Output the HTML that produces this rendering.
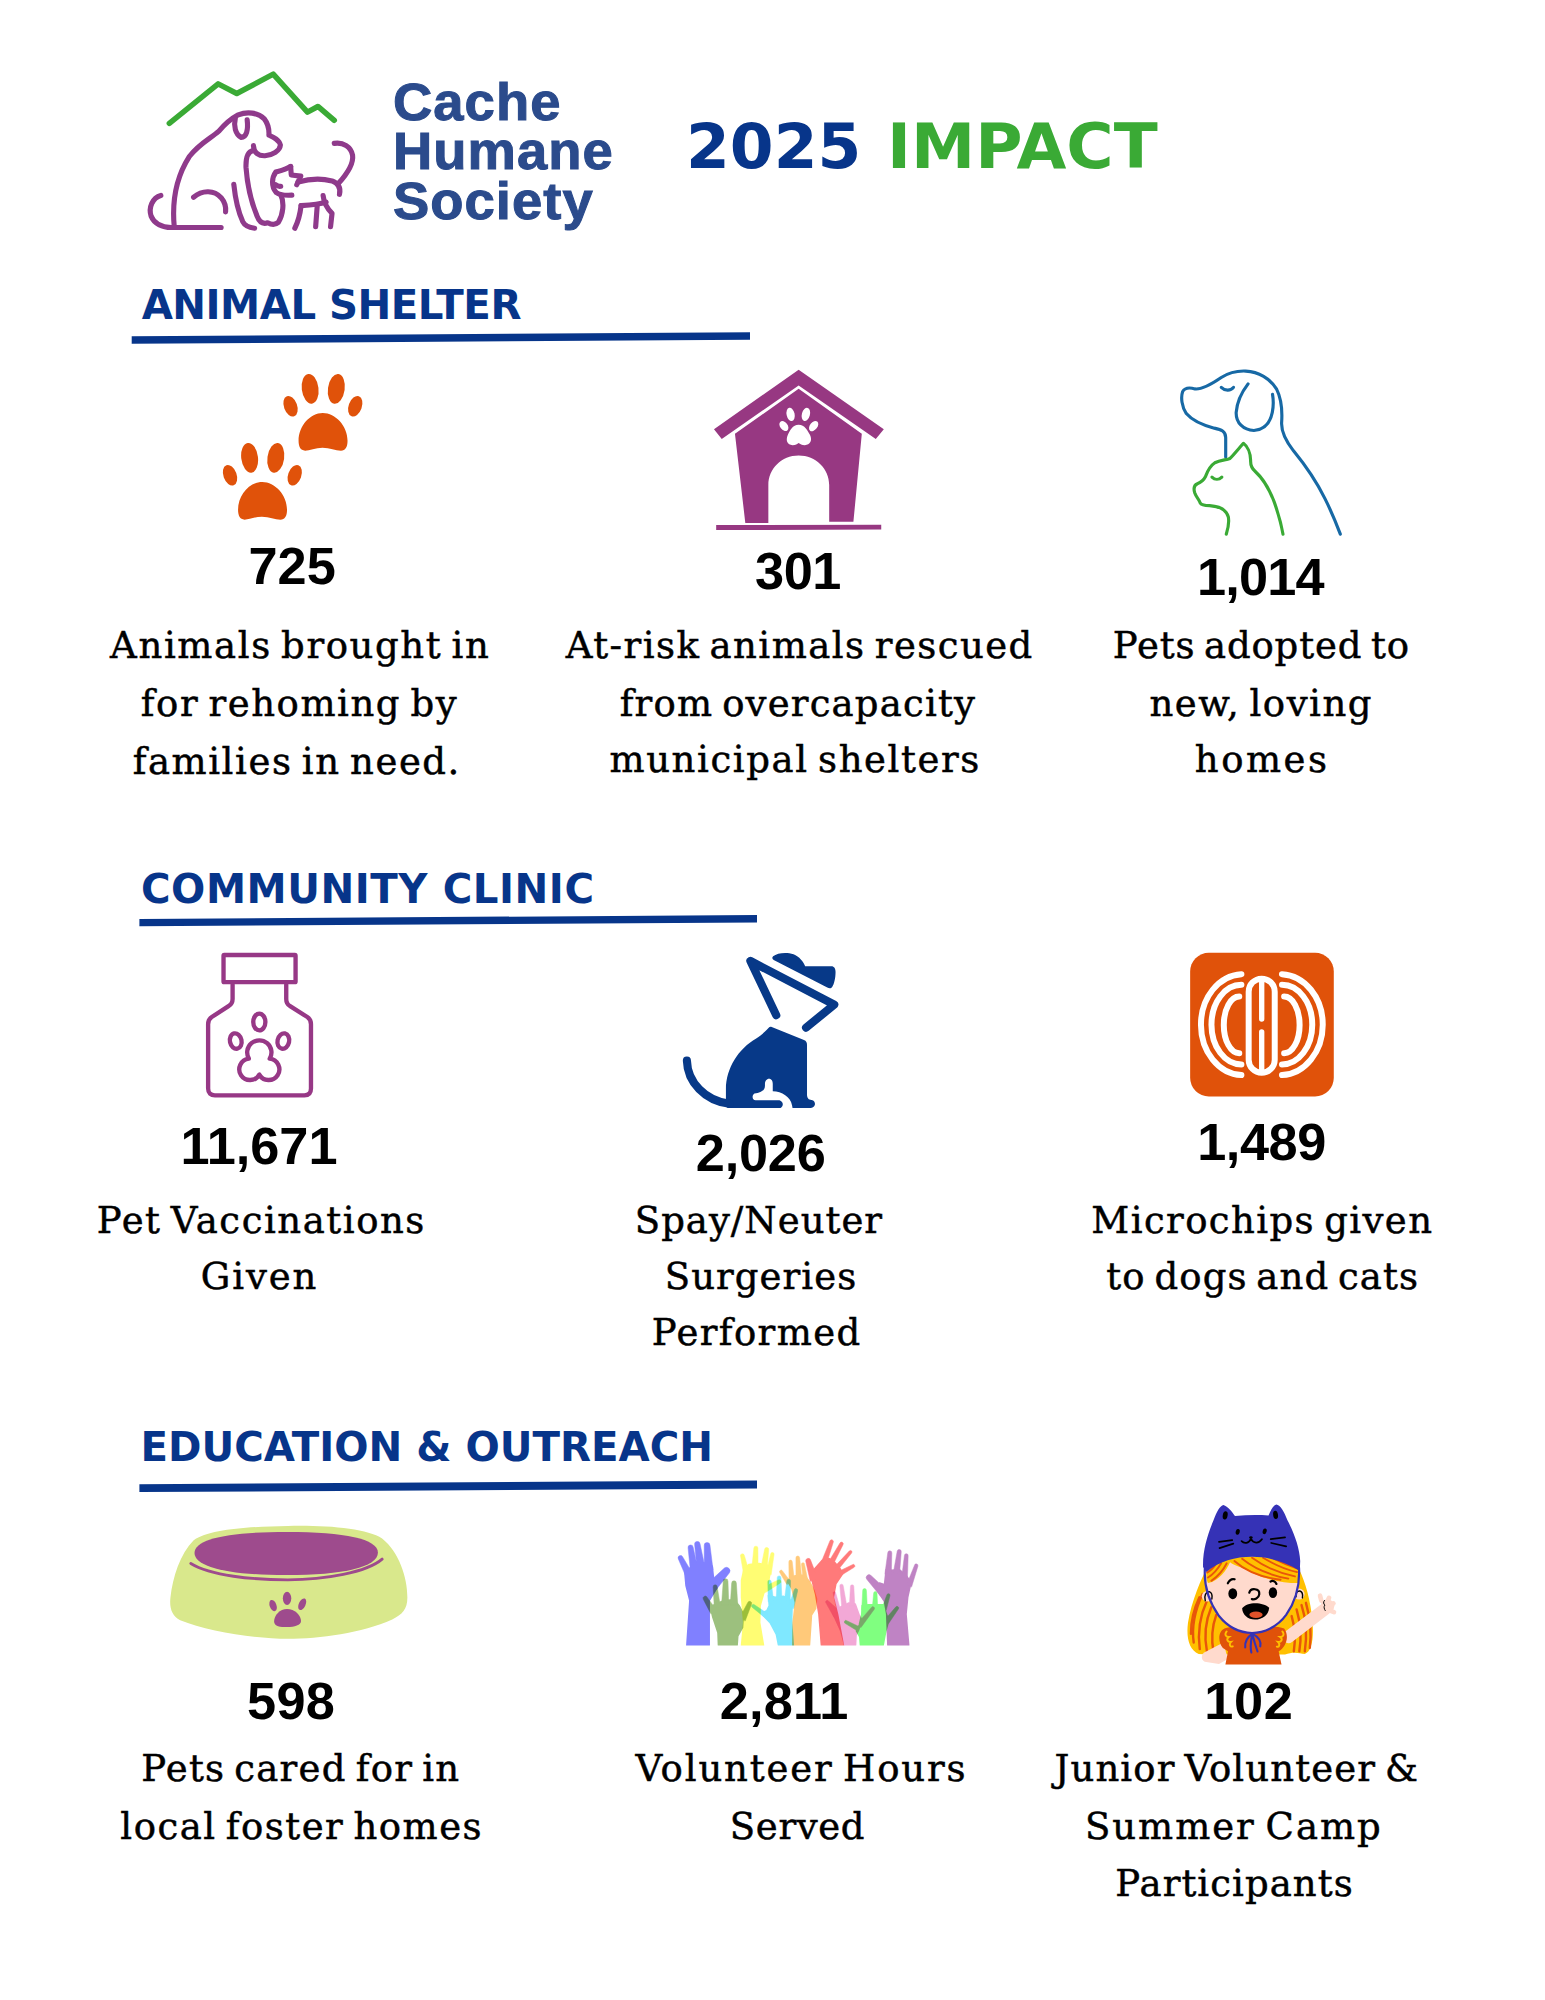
<!DOCTYPE html>
<html lang="en"><head><meta charset="utf-8"><title>Cache Humane Society 2025 Impact</title>
<style>
html,body{margin:0;padding:0;background:#fff}
#pg{position:relative;width:1545px;height:2000px;overflow:hidden;background:#fff}
.t{position:absolute;white-space:nowrap;line-height:1;margin:0;padding:0}
.sb{font-family:"Liberation Sans", sans-serif;font-weight:700}
.se{font-family:"DejaVu Serif", "Liberation Serif", serif;font-weight:400}
.dj{font-family:"DejaVu Sans", "Liberation Sans", sans-serif;font-weight:700}
.ic{position:absolute;overflow:visible}
.se{-webkit-text-stroke:0.5px #000;word-spacing:-4px}
</style></head><body><div id="pg">
<svg class="ic" style="left:0;top:0" width="1545" height="2000" viewBox="0 0 1545 2000">
<polygon fill="#07358a" points="131.7,336.2 750.0,332.2 750.0,339.8 131.7,343.8"/>
<polygon fill="#07358a" points="139.4,918.9 757.0,915.1 757.0,922.5 139.4,926.3"/>
<polygon fill="#07358a" points="139.4,1484.3 757.0,1480.6 757.0,1488.4 139.4,1492.1"/>
</svg>
<svg class="ic" style="left:140px;top:60px" width="230" height="180" viewBox="0 0 1545 1209">
<g fill="none" stroke-linecap="round" stroke-linejoin="round" stroke-width="34.5">
<path stroke="#3aaa35" stroke-width="37" d="M197 425 L525 160 L650 225 L895 95 L1125 350 L1195 312 L1305 405"/>
<g stroke="#8f3a8b">
<path d="M230 1120 C215 960 235 800 330 650 C400 560 470 530 530 478 C570 430 610 395 660 368 C720 345 790 352 835 395 C862 430 868 470 866 505 C900 520 935 535 943 572 C940 610 890 640 840 643 C800 645 765 628 762 575"/>
<path d="M640 395 C628 440 640 500 680 520 C715 520 728 470 720 402"/>
<path d="M760 608 C725 615 710 650 712 720 C720 830 750 960 785 1045 C800 1085 825 1105 858 1093 C880 1105 905 1112 930 1090 C960 1040 972 960 945 905"/>
<path d="M630 835 C640 930 660 1020 690 1085 C705 1115 735 1125 770 1130"/>
<path d="M360 922 C420 870 500 875 545 925 C570 955 578 990 575 1020"/>
<path d="M140 910 C85 925 55 990 75 1050 C95 1100 150 1125 210 1125 L545 1125"/>
<path d="M1012 715 C975 740 940 745 912 752 C885 790 880 850 915 890 C945 912 985 910 1020 908"/>
<path d="M912 838 C925 848 935 850 945 848"/>
<path d="M1012 715 L1016 772 L1080 780 L1053 838"/>
<path d="M1062 820 C1130 800 1220 795 1290 812 C1335 830 1350 860 1340 902"/>
<path d="M1332 830 C1395 760 1435 690 1428 640 C1418 585 1365 550 1305 560"/>
<path d="M1082 978 C1075 1040 1060 1090 1040 1130"/>
<path d="M1082 978 C1140 975 1200 972 1250 955"/>
<path d="M1190 985 L1180 1120"/>
<path d="M1230 910 C1235 960 1260 1000 1290 1030 L1280 1120"/>
</g></g></svg>
<svg class="ic" style="left:210px;top:360px" width="170" height="170" viewBox="0 0 1545 1545">
<g fill="#e0520a">
<g>
<ellipse cx="910" cy="262" rx="76" ry="136" transform="rotate(-7 910 262)"/>
<ellipse cx="1148" cy="262" rx="76" ry="136" transform="rotate(8 1148 262)"/>
<ellipse cx="732" cy="420" rx="60" ry="97" transform="rotate(-20 732 420)"/>
<ellipse cx="1320" cy="420" rx="60" ry="97" transform="rotate(20 1320 420)"/>
<path d="M1025 482 C1140 482 1250 600 1250 735 C1250 795 1230 824 1190 824 C1140 824 1090 797 1022 797 C960 797 905 824 865 824 C820 824 805 785 805 735 C805 600 910 482 1025 482 Z"/>
</g>
<g transform="translate(-550 627)">
<ellipse cx="910" cy="262" rx="76" ry="136" transform="rotate(-7 910 262)"/>
<ellipse cx="1148" cy="262" rx="76" ry="136" transform="rotate(8 1148 262)"/>
<ellipse cx="732" cy="420" rx="60" ry="97" transform="rotate(-20 732 420)"/>
<ellipse cx="1320" cy="420" rx="60" ry="97" transform="rotate(20 1320 420)"/>
<path d="M1025 482 C1140 482 1250 600 1250 735 C1250 795 1230 824 1190 824 C1140 824 1090 797 1022 797 C960 797 905 824 865 824 C820 824 805 785 805 735 C805 600 910 482 1025 482 Z"/>
</g>
</g>
</svg>
<svg class="ic" style="left:700px;top:360px" width="200" height="180" viewBox="0 0 1545 1390">
<g fill="#973882">
<polygon points="762,75 108,535 168,610 762,197 1358,610 1420,535"/>
<path d="M762 222 L270 570 L350 1258 L528 1258 L528 965 C528 840 630 738 762 738 C895 738 998 840 998 965 L998 1250 L1185 1250 L1250 570 Z"/>
<polygon points="125,1275 1400,1273 1400,1310 125,1313"/>
</g>
<g fill="#fff">
<ellipse cx="700" cy="420" rx="31" ry="52" transform="rotate(-12 700 420)"/>
<ellipse cx="818" cy="420" rx="31" ry="52" transform="rotate(15 818 420)"/>
<ellipse cx="648" cy="510" rx="29" ry="43" transform="rotate(-38 648 510)"/>
<ellipse cx="878" cy="510" rx="29" ry="45" transform="rotate(38 878 510)"/>
<path d="M762 500 C810 500 830 545 850 580 C870 625 850 655 810 658 C785 658 775 645 762 640 C750 645 740 658 715 658 C675 655 660 625 678 580 C695 545 715 500 762 500 Z"/>
</g>
</svg>
<svg class="ic" style="left:1170px;top:360px" width="180" height="185" viewBox="0 0 1545 1588">
<g fill="none" stroke-linecap="round" stroke-linejoin="round" stroke-width="27">
<g stroke="#1769a5">
<path d="M478 832 L478 665 C478 610 440 598 380 585 C300 565 200 530 140 460 C100 400 92 320 108 272 C125 240 170 235 215 248 C280 255 360 205 440 150 C510 105 580 92 650 95 C760 100 860 160 915 250 C960 340 965 440 958 540 C955 620 990 690 1060 780 C1150 890 1250 1030 1330 1190 C1390 1310 1430 1410 1462 1495"/>
<path d="M670 205 C620 270 575 360 568 450 C565 540 630 600 720 605 C810 600 860 540 878 450 C890 390 888 340 880 295"/>
<path d="M440 235 C470 265 520 268 545 235"/>
</g>
<g stroke="#3aaa35">
<path d="M483 1495 C500 1440 510 1390 500 1345 C480 1280 420 1255 340 1250 C300 1250 270 1248 258 1225 C250 1195 225 1180 212 1140 C200 1100 205 1075 235 1062 C270 1048 290 1030 305 1000 C320 960 335 915 385 882 C430 860 480 858 515 845 C550 810 590 760 630 715 C665 740 690 800 692 860 C690 900 695 925 730 955 C790 1010 850 1100 895 1220 C930 1320 955 1410 970 1495"/>
<path d="M360 1005 C385 1030 420 1030 445 1005"/>
</g></g></svg>
<svg class="ic" style="left:190px;top:940px" width="140" height="170" viewBox="0 0 1545 1876">
<g fill="none" stroke="#973886" stroke-width="48" stroke-linejoin="round" stroke-linecap="round">
<rect x="370" y="165" width="795" height="300" rx="8"/>
<path d="M470 490 L470 650 C470 690 455 712 425 730 L240 850 C210 870 200 890 200 930 L200 1640 C200 1690 230 1715 275 1715 L1262 1715 C1310 1715 1335 1690 1335 1640 L1335 930 C1335 890 1325 870 1295 850 L1105 730 C1075 712 1062 690 1062 650 L1062 490"/>
<ellipse cx="765" cy="905" rx="67" ry="92"/>
<ellipse cx="505" cy="1115" rx="64" ry="86" transform="rotate(-12 505 1115)"/>
<ellipse cx="1030" cy="1115" rx="64" ry="86" transform="rotate(12 1030 1115)"/>
<path d="M650 1310 A134 134 0 1 1 880 1310 A118 118 0 1 1 765 1485 A118 118 0 1 1 650 1310 Z"/>
</g>
</svg>
<svg class="ic" style="left:670px;top:940px" width="180" height="180" viewBox="0 0 1545 1545">
<g fill="#073988" stroke="none">
<path d="M885 140 C920 110 1000 102 1060 122 C1110 142 1145 185 1160 225 L1385 225 C1410 225 1421 245 1421 275 C1421 330 1408 380 1392 404 C1382 418 1365 416 1350 408 L890 172 C875 162 875 150 885 140 Z"/>
<path d="M868 745 L1150 858 C1170 866 1176 880 1176 900 L1176 1325 C1176 1360 1190 1372 1215 1374 C1240 1378 1246 1400 1244 1412 C1240 1432 1225 1441 1205 1441 L500 1441 C485 1441 480 1430 480 1410 L480 1280 C480 1100 590 930 740 845 C790 815 820 780 845 755 C852 747 860 743 868 745 Z"/>
</g>
<path fill="#fff" d="M815 1235 C815 1210 830 1190 850 1190 C872 1190 882 1210 882 1235 L882 1298 C960 1300 1035 1345 1048 1420 L1052 1445 L945 1445 C978 1430 975 1385 940 1375 L735 1375 C705 1372 700 1335 725 1318 C780 1312 815 1290 815 1250 Z"/>
<g fill="none" stroke="#073988" stroke-width="70" stroke-linecap="round" stroke-linejoin="round">
<path d="M912 645 L690 180 L1410 555 L1168 752"/>
<path d="M145 1035 C150 1220 300 1380 510 1406"/>
</g>
</svg>
<svg class="ic" style="left:1180px;top:940px" width="165" height="165" viewBox="0 0 1545 1545">
<rect x="95" y="120" width="1345" height="1345" rx="175" fill="#e0520a"/>
<g fill="none" stroke="#fff" stroke-width="56" stroke-linecap="round">
<rect x="643" y="362" width="244" height="881" rx="122"/>
<path d="M765 400 L765 740 M765 860 L765 1205" stroke-width="50"/>
<path d="M575 320 A397 473 0 0 0 575 1265"/>
<path d="M575 420 A280 372 0 0 0 575 1165"/>
<path d="M555 530 A145 265 0 0 0 555 1060"/>
<path d="M955 320 A400 473 0 0 1 955 1265"/>
<path d="M955 420 A283 372 0 0 1 955 1165"/>
<path d="M975 530 A145 265 0 0 1 975 1060"/>
</g></svg>
<svg class="ic" style="left:160px;top:1510px" width="260" height="140" viewBox="0 0 1545 832">
<path fill="#d9e88c" d="M760 95 C1000 90 1230 110 1320 170 C1420 250 1470 400 1470 520 C1470 590 1440 622 1380 650 C1200 730 950 765 760 765 C560 765 280 720 120 655 C70 630 55 580 62 520 C75 400 120 260 200 180 C290 115 520 98 760 95 Z"/>
<g fill="#9e4b8d">
<path d="M205 255 C205 172 400 130 755 130 C1100 130 1295 172 1295 252 C1295 338 1090 387 750 387 C410 387 205 338 205 255 Z"/>
<ellipse cx="755" cy="525" rx="25" ry="39"/>
<ellipse cx="672" cy="568" rx="20" ry="35" transform="rotate(-20 672 568)"/>
<ellipse cx="845" cy="560" rx="20" ry="37" transform="rotate(25 845 560)"/>
<path d="M755 588 C800 588 838 625 838 660 C838 685 800 696 755 696 C715 696 678 690 678 662 C678 625 712 588 755 588 Z"/>
</g>
<path fill="none" stroke="#9e4b8d" stroke-width="17" stroke-linecap="round" d="M183 318 C300 390 550 415 760 415 C980 415 1230 370 1320 292"/>
</svg>
<svg class="ic" style="left:665px;top:1530px;isolation:isolate" width="260" height="125" viewBox="0 0 1545 743">
<defs><filter id="hb" x="-5%" y="-5%" width="110%" height="110%"><feGaussianBlur stdDeviation="2.2"/></filter><clipPath id="hc"><rect x="0" y="0" width="1545" height="686"/></clipPath></defs>
<g clip-path="url(#hc)"><g filter="url(#hb)">
<g style="mix-blend-mode:multiply" fill="#8080ff" stroke="#8080ff" stroke-linecap="round" stroke-linejoin="round"><polygon stroke-width="10" points="130,686 148,420 125,330 118,250 150,225 200,200 250,195 280,215 288,290 310,340 262,420 262,686"/><path stroke-width="3" d="M165 261L105 160A14 14 0 0 0 79 172L126 281ZM197 238L167 102A15 15 0 0 0 137 106L151 245ZM238 223L208 82A16 16 0 0 0 176 86L190 231ZM285 235L267 91A17 17 0 0 0 233 93L233 239ZM300 360L383 254A21 21 0 0 0 353 226L254 317Z"/></g>
<g style="mix-blend-mode:multiply" fill="#9cc07e" stroke="#9cc07e" stroke-linecap="round" stroke-linejoin="round"><polygon stroke-width="10" points="318,686 315,610 285,520 270,460 300,440 350,420 410,415 440,450 465,500 460,580 432,630 428,686"/><path stroke-width="3" d="M305 475L250 399A13 13 0 0 0 228 413L271 496ZM330 460L310 337A12 12 0 0 0 286 339L293 464ZM379 442L374 304A14 14 0 0 0 346 304L336 442ZM432 442L424 316A14 14 0 0 0 396 316L388 442ZM477 539L514 441A12 12 0 0 0 492 431L443 523Z"/></g>
<g style="mix-blend-mode:multiply" fill="#fffd73" stroke="#fffd73" stroke-linecap="round" stroke-linejoin="round"><polygon stroke-width="10" points="455,686 468,550 455,400 455,300 470,230 500,205 560,200 610,210 625,250 612,320 585,380 565,450 562,550 585,686"/><path stroke-width="3" d="M500 248L471 150A11 11 0 0 0 449 156L466 256ZM553 228L552 109A12 12 0 0 0 528 107L516 226ZM607 230L616 118A12 12 0 0 0 592 114L570 224ZM631 265L648 146A10 10 0 0 0 628 142L600 259ZM598 371L683 317A11 11 0 0 0 673 297L581 341Z"/></g>
<g style="mix-blend-mode:multiply" fill="#7fe8ff" stroke="#7fe8ff" stroke-linecap="round" stroke-linejoin="round"><polygon stroke-width="10" points="675,686 662,620 625,550 570,495 605,480 620,450 615,390 655,400 705,395 740,410 755,450 752,550 762,686"/><path stroke-width="3" d="M608 496L531 444A9 9 0 0 0 519 460L591 519ZM645 421L631 307A10 10 0 0 0 611 309L613 423ZM695 412L689 284A11 11 0 0 0 667 284L661 412ZM744 418L746 305A11 11 0 0 0 724 303L710 416ZM764 466L788 362A10 10 0 0 0 768 356L733 457Z"/></g>
<g style="mix-blend-mode:multiply" fill="#ffc97a" stroke="#ffc97a" stroke-linecap="round" stroke-linejoin="round"><polygon stroke-width="10" points="760,686 762,550 775,430 755,350 730,305 745,280 790,270 830,270 860,310 885,360 900,410 895,465 870,505 858,686"/><path stroke-width="3" d="M747 307L698 243A9 9 0 0 0 682 253L723 323ZM769 301L756 188A10 10 0 0 0 736 190L737 303ZM813 291L800 165A11 11 0 0 0 778 167L778 293ZM851 310L829 203A9 9 0 0 0 811 205L823 314Z"/></g>
<g style="mix-blend-mode:multiply" fill="#ff7a7a" stroke="#ff7a7a" stroke-linecap="round" stroke-linejoin="round"><polygon stroke-width="10" points="930,686 915,500 895,380 872,290 890,230 935,180 975,170 1010,195 1040,230 1055,260 1015,320 1000,400 1025,500 1060,686"/><path stroke-width="3" d="M908 290L864 176A15 15 0 0 0 836 184L863 303ZM961 197L1000 73A10 10 0 0 0 980 65L931 186ZM998 208L1058 87A10 10 0 0 0 1040 77L970 193ZM1028 238L1109 137A9 9 0 0 0 1095 125L1006 220ZM1041 273L1124 222A9 9 0 0 0 1114 206L1028 248Z"/></g>
<g style="mix-blend-mode:multiply" fill="#f2a8d6" stroke="#f2a8d6" stroke-linecap="round" stroke-linejoin="round"><polygon stroke-width="10" points="1068,686 1045,600 1000,500 975,430 1020,470 1060,450 1090,435 1130,440 1155,510 1170,535 1150,595 1135,625 1132,686"/><path stroke-width="3" d="M1029 502L972 423A9 9 0 0 0 956 433L1004 518ZM1044 479L1013 369A8 8 0 0 0 999 373L1022 484ZM1082 460L1059 331A10 10 0 0 0 1039 333L1051 464ZM1128 452L1122 336A10 10 0 0 0 1102 336L1096 452ZM1165 579L1243 472A10 10 0 0 0 1227 460L1140 560Z"/></g>
<g style="mix-blend-mode:multiply" fill="#80ff80" stroke="#80ff80" stroke-linecap="round" stroke-linejoin="round"><polygon stroke-width="10" points="1162,686 1158,635 1138,600 1155,565 1170,500 1172,450 1210,445 1262,445 1300,445 1315,500 1330,535 1312,600 1296,686"/><path stroke-width="3" d="M1162 578L1080 539A9 9 0 0 0 1070 555L1149 603ZM1203 472L1197 359A11 11 0 0 0 1175 359L1169 472ZM1264 462L1260 376A10 10 0 0 0 1240 376L1232 462ZM1315 476L1337 391A9 9 0 0 0 1319 385L1288 467ZM1330 554L1387 470A10 10 0 0 0 1371 458L1305 535Z"/></g>
<g style="mix-blend-mode:multiply" fill="#bf83c4" stroke="#bf83c4" stroke-linecap="round" stroke-linejoin="round"><polygon stroke-width="10" points="1325,686 1318,500 1305,425 1272,375 1275,315 1305,325 1315,235 1348,240 1392,235 1432,270 1462,310 1442,400 1432,500 1448,686"/><path stroke-width="3" d="M1317 356L1224 270A17 17 0 0 0 1200 294L1279 391ZM1345 263L1348 137A12 12 0 0 0 1324 135L1307 260ZM1394 259L1404 130A12 12 0 0 0 1380 126L1357 255ZM1441 283L1445 153A11 11 0 0 0 1423 151L1407 281ZM1466 337L1503 215A10 10 0 0 0 1483 209L1436 326Z"/></g>
</g></g></svg>
<svg class="ic" style="left:1175px;top:1495px" width="170" height="175" viewBox="0 0 1545 1590">
<!-- back hair -->
<path fill="#ffc000" d="M300 640 C240 760 150 960 118 1160 C100 1300 130 1410 215 1445 L300 1450 L1000 1450 C1080 1420 1130 1440 1180 1445 C1245 1420 1262 1300 1250 1150 C1232 950 1185 800 1130 680 Z"/>
<g fill="none" stroke="#e8560a" stroke-width="22" stroke-linecap="round">
<path d="M250 900 C180 1050 150 1200 170 1340"/><path d="M290 960 C225 1100 205 1250 225 1400"/><path d="M330 1020 C275 1150 265 1290 290 1420"/><path d="M375 1090 C335 1200 330 1320 350 1430"/><path d="M222 930 C170 1040 145 1150 145 1260"/>
<path d="M1150 1000 C1190 1120 1200 1280 1180 1420"/><path d="M1190 980 C1230 1120 1240 1270 1225 1390"/><path d="M1105 1040 C1140 1160 1150 1300 1130 1420"/><path d="M1060 1100 C1090 1200 1095 1320 1080 1420"/>
</g>
<!-- right arm & hand -->
<g fill="#ffdacd" stroke="#ffdacd" stroke-linecap="round">
<path fill="none" stroke-width="112" d="M1030 1290 L1360 1040"/>
<circle cx="1385" cy="1010" r="62" stroke="none"/>
<path fill="none" stroke-width="42" d="M1330 960 L1318 915 M1385 965 L1400 935 M1425 1000 L1440 985 M1420 1055 L1445 1065"/>
</g>
<path fill="none" stroke="#000" stroke-width="9" stroke-linecap="round" d="M1358 958 C1345 975 1350 990 1362 1000 C1350 1015 1355 1035 1365 1050"/>
<!-- left arm -->
<path fill="#ffdacd" d="M440 1340 L270 1430 C235 1450 235 1500 270 1515 L400 1535 L480 1490 Z"/>
<!-- dress -->
<path fill="#e0520a" d="M450 1212 C395 1235 385 1330 435 1390 L482 1420 L458 1540 L968 1540 L942 1420 C1012 1380 1042 1280 992 1212 C900 1180 550 1180 450 1212 Z"/>
<g fill="none" stroke="#ffc000" stroke-width="17" stroke-linecap="round">
<path d="M470 1240 C445 1270 465 1290 490 1290 C460 1310 480 1340 510 1335 C485 1360 505 1385 525 1375"/>
<path d="M975 1240 C1000 1270 980 1290 955 1290 C985 1310 965 1340 935 1335 C960 1360 945 1385 925 1378"/>
</g>
<!-- ears -->
<circle cx="292" cy="920" r="48" fill="#ffdacd"/><circle cx="1128" cy="900" r="50" fill="#ffdacd"/>
<!-- face -->
<path fill="#ffdacd" d="M272 640 C262 800 300 960 400 1100 C480 1200 590 1252 700 1254 C810 1252 930 1200 1010 1090 C1100 960 1135 800 1127 640 L1100 570 L300 570 Z"/>
<g fill="none" stroke="#000" stroke-width="13" stroke-linecap="round"><path d="M275 960 C262 920 280 880 310 878 C335 885 340 915 335 945"/><path d="M1100 925 C1095 890 1110 870 1135 872 C1160 880 1162 910 1158 935"/></g>
<!-- front hair -->
<path fill="#ffc000" d="M300 640 C380 580 480 555 560 560 C760 545 1000 580 1130 660 L1135 800 C1000 805 800 765 690 700 C600 650 540 640 500 610 C470 680 400 780 300 800 C280 760 280 700 300 640 Z"/>
<g fill="none" stroke="#e8560a" stroke-width="17" stroke-linecap="round">
<path d="M540 600 C640 690 800 750 960 770"/><path d="M610 580 C720 670 870 730 1030 760"/><path d="M700 570 C810 650 950 710 1090 740"/><path d="M800 570 C900 630 1010 680 1110 700"/><path d="M900 580 C980 620 1060 650 1120 670"/>
<path d="M470 620 C440 680 390 740 330 780"/><path d="M420 620 C390 670 350 720 300 750"/><path d="M370 630 C345 665 320 690 292 705"/>
</g>
<!-- hat -->
<path fill="#3532b6" d="M440 90 C480 100 520 155 545 190 C650 180 750 178 850 185 C870 140 890 95 920 85 C960 90 992 150 1022 230 C1085 350 1132 480 1138 600 L1134 690 C1000 605 850 562 700 562 C550 562 400 602 285 700 L255 655 C250 500 300 350 350 230 C380 150 410 95 440 90 Z"/>
<g fill="#000"><ellipse cx="456" cy="185" rx="22" ry="38" transform="rotate(10 456 185)"/><ellipse cx="914" cy="180" rx="22" ry="38" transform="rotate(-8 914 180)"/>
<ellipse cx="570" cy="335" rx="18" ry="26" transform="rotate(15 570 335)"/><ellipse cx="815" cy="330" rx="18" ry="26" transform="rotate(15 815 330)"/>
<ellipse cx="690" cy="385" rx="16" ry="11"/></g>
<g fill="none" stroke="#000" stroke-width="16" stroke-linecap="round">
<path d="M605 420 C630 445 670 440 690 398 C712 440 760 445 790 402"/>
<path d="M400 425 L520 410 M405 482 L530 442 M870 400 L1000 386 M875 436 L1010 466"/>
</g>
<!-- strap -->
<g fill="none" stroke="#3532b6" stroke-linecap="round">
<path stroke-width="20" d="M272 660 C262 800 300 960 400 1100 C480 1200 590 1252 700 1254 C810 1252 930 1200 1010 1090 C1100 960 1135 800 1127 660"/>
<path stroke-width="19" stroke-linejoin="round" d="M700 1262 C660 1290 632 1320 638 1385 M700 1272 C690 1330 680 1380 694 1432 M705 1272 C720 1330 735 1380 750 1422 M705 1262 C750 1285 785 1320 775 1375"/>
</g>
<!-- face features -->
<ellipse cx="525" cy="897" rx="40" ry="50" fill="#000"/><ellipse cx="890" cy="887" rx="38" ry="49" fill="#000"/>
<g fill="none" stroke="#000" stroke-width="20" stroke-linecap="round">
<path d="M480 802 C495 772 520 760 542 766"/><path d="M868 786 C890 774 912 786 922 808"/>
<path d="M675 888 C688 840 770 848 766 900 C762 940 722 952 698 946"/>
</g>
<path fill="#000" d="M610 1030 C650 968 800 968 856 1024 C852 1090 792 1132 726 1132 C660 1132 614 1090 610 1030 Z"/>
<ellipse cx="736" cy="1088" rx="60" ry="30" fill="#e0522a"/>
</svg>
<div class="t sb" style="font-size:52.2px;top:75.8px;color:#2b4b8c;letter-spacing:1px;left:392.5px;transform-origin:0 50%;transform:scaleX(1.042);-webkit-text-stroke:1px #2b4b8c;">Cache</div>
<div class="t sb" style="font-size:52.2px;top:125.1px;color:#2b4b8c;letter-spacing:1px;left:392.5px;transform-origin:0 50%;transform:scaleX(1.042);-webkit-text-stroke:1px #2b4b8c;">Humane</div>
<div class="t sb" style="font-size:52.2px;top:174.8px;color:#2b4b8c;letter-spacing:1px;left:392.5px;transform-origin:0 50%;transform:scaleX(1.042);-webkit-text-stroke:1px #2b4b8c;">Society</div>
<div class="t dj" style="font-size:62.6px;top:115.6px;color:#07358a;left:686.1px;transform-origin:0 50%;transform:scaleX(1.006);">2025</div>
<div class="t dj" style="font-size:62.6px;top:115.6px;color:#3aaa35;left:887.2px;transform-origin:0 50%;transform:scaleX(1.03);">IMPACT</div>
<div class="t dj" style="font-size:40.3px;top:285.5px;color:#07358a;letter-spacing:-0.5px;left:141.7px;">ANIMAL SHELTER</div>
<div class="t dj" style="font-size:40.3px;top:869.8px;color:#07358a;letter-spacing:0.55px;left:141.0px;">COMMUNITY CLINIC</div>
<div class="t dj" style="font-size:40.3px;top:1427.5px;color:#07358a;left:140.5px;">EDUCATION &amp; OUTREACH</div>
<div class="t sb" style="font-size:52.3px;top:539.6px;color:#000;letter-spacing:0.1px;left:292.2px;transform:translateX(-50%);">725</div>
<div class="t sb" style="font-size:52.3px;top:545.4px;color:#000;letter-spacing:-0.5px;left:798.0px;transform:translateX(-50%);">301</div>
<div class="t sb" style="font-size:52.3px;top:551.1px;color:#000;letter-spacing:-0.85px;left:1260.4px;transform:translateX(-50%);">1,014</div>
<div class="t sb" style="font-size:52.3px;top:1120.2px;color:#000;left:259.0px;transform:translateX(-50%);">11,671</div>
<div class="t sb" style="font-size:52.3px;top:1127.1px;color:#000;letter-spacing:-0.2px;left:760.7px;transform:translateX(-50%);">2,026</div>
<div class="t sb" style="font-size:52.3px;top:1116.0px;color:#000;letter-spacing:-0.45px;left:1261.5px;transform:translateX(-50%);">1,489</div>
<div class="t sb" style="font-size:52.3px;top:1674.7px;color:#000;letter-spacing:0.25px;left:291.1px;transform:translateX(-50%);">598</div>
<div class="t sb" style="font-size:52.3px;top:1675.3px;color:#000;letter-spacing:0.15px;left:784.2px;transform:translateX(-50%);">2,811</div>
<div class="t sb" style="font-size:52.3px;top:1674.6px;color:#000;letter-spacing:0.6px;left:1248.9px;transform:translateX(-50%);">102</div>
<div class="t se" style="font-size:37px;top:626.9px;color:#000;letter-spacing:1.61px;left:300.3px;transform:translateX(-50%);">Animals brought in</div>
<div class="t se" style="font-size:37px;top:684.9px;color:#000;letter-spacing:1.56px;left:299.5px;transform:translateX(-50%);">for rehoming by</div>
<div class="t se" style="font-size:37px;top:743.3px;color:#000;letter-spacing:1.58px;left:296.8px;transform:translateX(-50%);">families in need.</div>
<div class="t se" style="font-size:37px;top:627.3px;color:#000;letter-spacing:1.47px;left:799.7px;transform:translateX(-50%);">At-risk animals rescued</div>
<div class="t se" style="font-size:37px;top:684.5px;color:#000;letter-spacing:1.2px;left:797.9px;transform:translateX(-50%);">from overcapacity</div>
<div class="t se" style="font-size:37px;top:741.1px;color:#000;letter-spacing:1.61px;left:795.2px;transform:translateX(-50%);">municipal shelters</div>
<div class="t se" style="font-size:37px;top:627.3px;color:#000;letter-spacing:0.88px;left:1261.3px;transform:translateX(-50%);">Pets adopted to</div>
<div class="t se" style="font-size:37px;top:684.5px;color:#000;letter-spacing:1.52px;left:1261.2px;transform:translateX(-50%);">new, loving</div>
<div class="t se" style="font-size:37px;top:741.1px;color:#000;letter-spacing:2.55px;left:1262.2px;transform:translateX(-50%);">homes</div>
<div class="t se" style="font-size:37px;top:1201.6px;color:#000;letter-spacing:1.56px;left:261.4px;transform:translateX(-50%);">Pet Vaccinations</div>
<div class="t se" style="font-size:37px;top:1258.2px;color:#000;letter-spacing:1.85px;left:259.5px;transform:translateX(-50%);">Given</div>
<div class="t se" style="font-size:37px;top:1201.6px;color:#000;letter-spacing:1.02px;left:758.9px;transform:translateX(-50%);">Spay/Neuter</div>
<div class="t se" style="font-size:37px;top:1258.2px;color:#000;letter-spacing:1.08px;left:761.0px;transform:translateX(-50%);">Surgeries</div>
<div class="t se" style="font-size:37px;top:1313.9px;color:#000;letter-spacing:1.42px;left:756.7px;transform:translateX(-50%);">Performed</div>
<div class="t se" style="font-size:37px;top:1202.3px;color:#000;letter-spacing:1.42px;left:1262.4px;transform:translateX(-50%);">Microchips given</div>
<div class="t se" style="font-size:37px;top:1258.2px;color:#000;letter-spacing:1.09px;left:1262.7px;transform:translateX(-50%);">to dogs and cats</div>
<div class="t se" style="font-size:37px;top:1750.3px;color:#000;letter-spacing:1.26px;left:300.8px;transform:translateX(-50%);">Pets cared for in</div>
<div class="t se" style="font-size:37px;top:1807.7px;color:#000;letter-spacing:1.5px;left:301.7px;transform:translateX(-50%);">local foster homes</div>
<div class="t se" style="font-size:37px;top:1750.3px;color:#000;letter-spacing:1.84px;left:801.4px;transform:translateX(-50%);">Volunteer Hours</div>
<div class="t se" style="font-size:37px;top:1807.7px;color:#000;letter-spacing:0.64px;left:797.5px;transform:translateX(-50%);">Served</div>
<div class="t se" style="font-size:37px;top:1750.4px;color:#000;letter-spacing:1.14px;left:1236.8px;transform:translateX(-50%);">Junior Volunteer &amp;</div>
<div class="t se" style="font-size:37px;top:1808.0px;color:#000;letter-spacing:2px;left:1233.8px;transform:translateX(-50%);">Summer Camp</div>
<div class="t se" style="font-size:37px;top:1864.7px;color:#000;letter-spacing:1.07px;left:1234.5px;transform:translateX(-50%);">Participants</div>
</div></body></html>
